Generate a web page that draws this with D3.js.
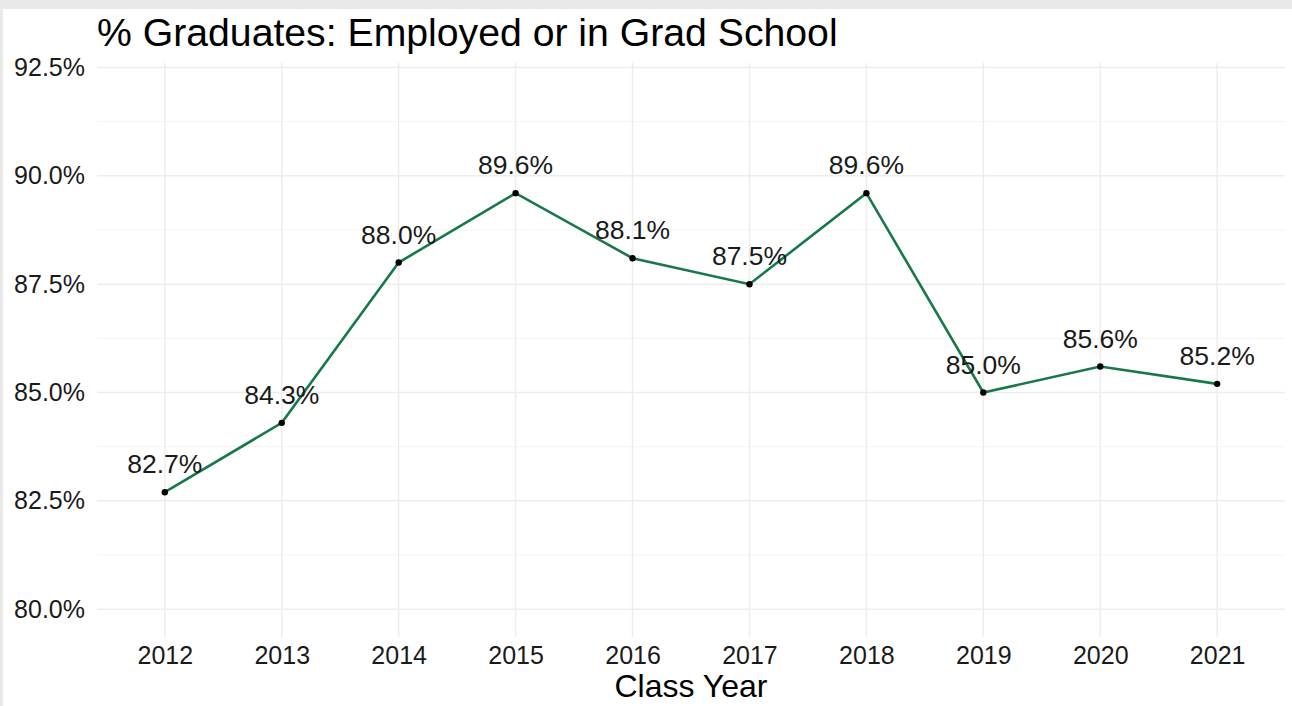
<!DOCTYPE html>
<html>
<head>
  <meta charset="utf-8">
  <title>% Graduates: Employed or in Grad School</title>
  <script src="https://d3js.org/d3.v7.min.js"></script>
  <style>
    body { margin: 0; background: #e9e9e9; }
    svg { display: block; font-family: "Liberation Sans", Arial, sans-serif; }
    .grid line { stroke: #ededed; }
    .grid .minor { stroke: #f4f4f4; }
    .domain { display: none; }
  </style>
</head>
<body>
<div id="chart"></div>
<script>
  //chart data
  var years = ["2012","2013","2014","2015","2016","2017","2018","2019","2020","2021"];
  var pctEmployed = [82.7, 84.3, 88.0, 89.6, 88.1, 87.5, 89.6, 85.0, 85.6, 85.2];
  var yTicks = [80, 82.5, 85, 87.5, 90, 92.5];
  var yMinor = [81.25, 83.75, 86.25, 88.75, 91.25];

  var width = 1292, height = 706;

  var svg = d3.select("#chart").append("svg")
          .attr("width", width).attr("height", height);

  //white card inside the gray frame
  svg.append("rect")
          .attr("x", 3).attr("y", 9).attr("width", width - 3).attr("height", height - 9)
          .attr("fill", "#fff");

  var panel = {left: 97, right: 1285, top: 63, bottom: 637};

  var x = d3.scalePoint().domain(years)
          .range([panel.left, panel.right]).padding(0.58);

  //80 -> 609.2, 92.5 -> 67.5
  var y = d3.scaleLinear().domain([80, 92.5]).range([609.2, 67.5]);

  //grid
  var grid = svg.append("g").attr("class", "grid");
  grid.selectAll(".minor").data(yMinor).enter().append("line")
          .attr("class", "minor")
          .attr("x1", panel.left).attr("x2", panel.right)
          .attr("y1", y).attr("y2", y)
          .attr("stroke-width", 1);
  grid.selectAll(".hmajor").data(yTicks).enter().append("line")
          .attr("class", "hmajor")
          .attr("x1", panel.left).attr("x2", panel.right)
          .attr("y1", y).attr("y2", y)
          .attr("stroke-width", 1.5);
  grid.selectAll(".vmajor").data(years).enter().append("line")
          .attr("class", "vmajor")
          .attr("x1", x).attr("x2", x)
          .attr("y1", panel.top).attr("y2", panel.bottom)
          .attr("stroke-width", 1.5);

  //axes
  var yAxis = svg.append("g")
          .attr("transform", "translate(" + panel.left + ",0)")
          .call(d3.axisLeft(y).tickValues(yTicks).tickSize(0).tickPadding(12)
                  .tickFormat(function(d) { return d3.format(".1f")(d) + "%"; }));
  yAxis.selectAll("text").attr("font-size", 25).attr("fill", "#1a1a1a")
          .attr("font-family", "Liberation Sans, Arial, sans-serif");

  var xAxis = svg.append("g")
          .attr("transform", "translate(0," + panel.bottom + ")")
          .call(d3.axisBottom(x).tickSize(0).tickPadding(9));
  xAxis.selectAll("text").attr("font-size", 25).attr("fill", "#1a1a1a")
          .attr("font-family", "Liberation Sans, Arial, sans-serif");

  //line
  var data = years.map(function(yr, i) { return {year: yr, v: pctEmployed[i]}; });

  svg.append("path")
          .datum(data)
          .attr("fill", "none")
          .attr("stroke", "#17794a")
          .attr("stroke-width", 2.6)
          .attr("d", d3.line().x(function(d) { return x(d.year); }).y(function(d) { return y(d.v); }));

  svg.selectAll(".pt").data(data).enter().append("circle")
          .attr("class", "pt")
          .attr("cx", function(d) { return x(d.year); })
          .attr("cy", function(d) { return y(d.v); })
          .attr("r", 3.2)
          .attr("fill", "#000");

  //value labels
  svg.selectAll(".lbl").data(data).enter().append("text")
          .attr("class", "lbl")
          .attr("x", function(d) { return x(d.year); })
          .attr("y", function(d) { return y(d.v) - 19; })
          .attr("text-anchor", "middle")
          .attr("font-size", 26.5)
          .attr("fill", "#1a1a1a")
          .text(function(d) { return d3.format(".1f")(d.v) + "%"; });

  //titles
  svg.append("text")
          .attr("x", panel.left).attr("y", 46)
          .attr("font-size", 39.2).attr("fill", "#000")
          .text("% Graduates: Employed or in Grad School");

  svg.append("text")
          .attr("x", (panel.left + panel.right) / 2).attr("y", 697)
          .attr("text-anchor", "middle")
          .attr("font-size", 32).attr("fill", "#000")
          .text("Class Year");
</script>
</body>
</html>
